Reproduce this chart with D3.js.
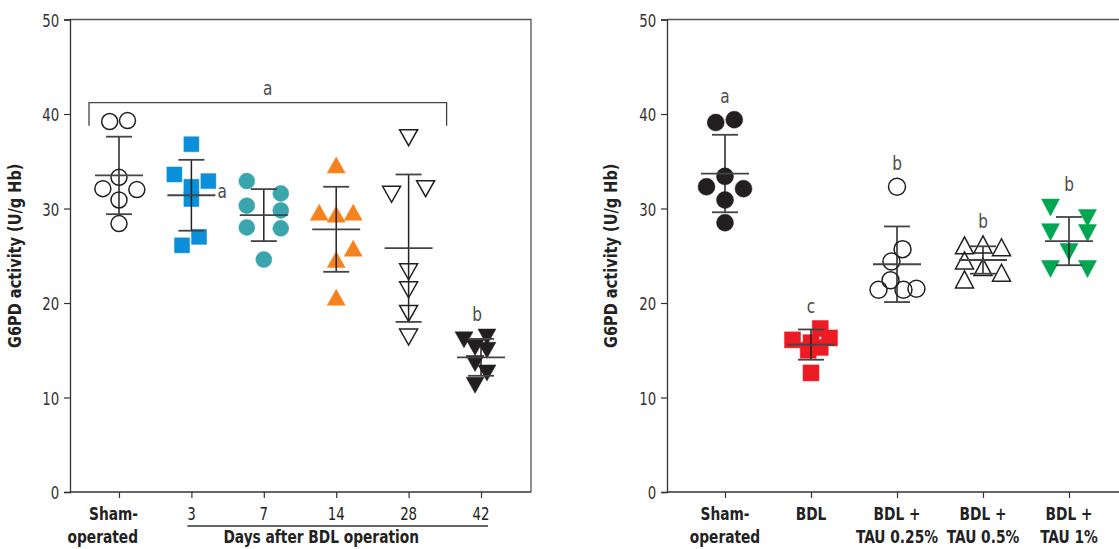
<!DOCTYPE html>
<html><head><meta charset="utf-8">
<script src="https://cdn.jsdelivr.net/npm/d3@7"></script>
<style>
html,body{margin:0;padding:0;background:#fff;}
text{font-family:"DejaVu Sans Condensed","DejaVu Sans",sans-serif;}
</style></head>
<body><svg id="chart" width="1119" height="549"></svg>
<script>
// ---------- DATA ----------
const yTicks = [0, 10, 20, 30, 40, 50];
const yLabel = "G6PD activity (U/g Hb)";

// Left panel
const leftCategories = ["Sham-operated", "3", "7", "14", "28", "42"];
const leftLabelLines = [["Sham-", "operated"], ["3"], ["7"], ["14"], ["28"], ["42"]];
const leftLabelBold = [true, false, false, false, false, false];
const leftMeans = [33.5, 31.4, 29.3, 27.8, 25.8, 14.25];
const leftSD = [4.1, 3.75, 2.75, 4.5, 7.8, 1.95];
const leftShapes = ["circle", "square", "circle", "triUp", "triDown", "triDown"];
const leftFills = ["none", "#0a8fd8", "#3ba5ad", "#f6821f", "none", "#231f20"];
const leftPoints = [
  [39.2, 39.3, 33.3, 32.1, 32.0, 30.9, 28.4],
  [36.8, 33.6, 32.9, 32.3, 31.0, 27.0, 26.1],
  [32.9, 31.6, 30.3, 29.8, 28.0, 27.9, 24.6],
  [34.6, 29.6, 29.4, 29.6, 25.8, 24.6, 20.6],
  [37.5, 32.1, 31.5, 23.3, 21.4, 18.9, 16.4],
  [16.1, 16.4, 15.3, 15.0, 13.6, 12.6, 11.3]
];
const leftSlots = [
  [-0.55, 0.5, 0, -0.95, 1.05, 0, 0],
  [0, -1, 1, 0, 0, 0.45, -0.55],
  [-1, 1, -1, 1, -1, 1, 0],
  [0, -1, 0, 1, 1, 0, 0],
  [0, 1, -1, 0, 0, 0, 0],
  [-1, 0.35, -0.35, 0.35, -0.35, 0.35, -0.35]
];
const leftBracket = {from: 0, to: 4, value: 41.2, letter: "a"};
const leftSideLetter = {group: 1, letter: "a"};
const leftTopLetter = {group: 5, letter: "b"};
const leftGroupTitle = "Days after BDL operation";

// Right panel
const rightCategories = ["Sham-operated", "BDL", "BDL + TAU 0.25%", "BDL + TAU 0.5%", "BDL + TAU 1%"];
const rightLabelLines = [["Sham-", "operated"], ["BDL"], ["BDL +", "TAU 0.25%"], ["BDL +", "TAU 0.5%"], ["BDL +", "TAU 1%"]];
const rightMeans = [33.7, 15.6, 24.1, 24.55, 26.55];
const rightSD = [4.1, 1.6, 4.0, 1.45, 2.55];
const rightShapes = ["circle", "square", "circle", "triUp", "triDown"];
const rightFills = ["#231f20", "#ed1c24", "none", "none", "#00a651"];
const rightPoints = [
  [39.1, 39.4, 33.4, 32.3, 32.1, 30.9, 28.5],
  [16.1, 17.3, 15.8, 16.3, 15.3, 15.0, 12.6],
  [32.3, 25.7, 24.4, 22.4, 21.4, 21.4, 21.5],
  [26.1, 26.2, 25.9, 24.5, 23.8, 23.2, 22.5],
  [30.1, 29.0, 27.5, 27.4, 25.4, 23.6, 23.6]
];
const rightSlots = [
  [-0.5, 0.5, 0, -1, 1, 0, 0],
  [-1, 0.5, 0, 1, 0.5, -0.15, 0],
  [0, 0.3, -0.3, -0.35, -1, 0.35, 1.05],
  [-1, 0, 1, -1, 0, 1, -1],
  [-1, 1, -1, 1, 0, -1, 1]
];
const rightLetters = ["a", "c", "b", "b", "b"];

// ---------- DRAW ----------
const svg = d3.select("#chart");
const axisColor = "#333";
const letterColor = "#4a4a4a";
const SX_BOLD = 0.85, SX_REG = 0.8;
const y = d3.scaleLinear().domain([0, 50]).range([492, 19.5]);

function shapePath(type, s) {
  if (type === "circle") { const r = s.r; return `M${-r},0A${r},${r} 0 1,0 ${r},0A${r},${r} 0 1,0 ${-r},0Z`; }
  if (type === "square") { const h = s.sq / 2; return `M${-h},${-h}H${h}V${h}H${-h}Z`; }
  const w = s.tw / 2, h = s.th / 2;
  if (type === "triUp") return `M0,${-h}L${w},${h}L${-w},${h}Z`;
  return `M${-w},${-h}L${w},${-h}L0,${h}Z`;
}
function halfHeight(type, s) {
  if (type === "circle") return s.r;
  if (type === "square") return s.sq / 2;
  return s.th / 2;
}
// narrow text helper
function ntext(parent, x, yy, str, o) {
  o = o || {};
  const t = parent.append("text")
    .attr("transform", `translate(${x},${yy}) ${o.rotate ? "rotate(" + o.rotate + ")" : ""} scale(${o.sx || SX_REG},1)`)
    .attr("text-anchor", o.anchor || "middle")
    .attr("font-size", o.size || 18)
    .attr("font-weight", o.bold ? "bold" : "normal")
    .attr("fill", o.fill || "#222")
    .text(str);
  return t;
}

function drawPanel(opt) {
  const g = svg.append("g");
  const x = d3.scalePoint().domain(opt.categories).range(opt.xRange);
  // frame (top + right)
  g.append("path")
    .attr("d", `M${opt.axisX},${y(50)}H${opt.frameRight}V${y(0)}`)
    .attr("fill", "none").attr("stroke", "#555").attr("stroke-width", 1.3);
  // y axis
  const ya = g.append("g").attr("transform", `translate(${opt.axisX},0)`)
    .call(d3.axisLeft(y).tickValues(yTicks).tickSize(6).tickPadding(5).tickFormat(d3.format("d")));
  ya.select(".domain").attr("stroke", axisColor).attr("stroke-width", 1.3);
  ya.selectAll(".tick line").attr("stroke", axisColor).attr("stroke-width", 1.2);
  ya.selectAll(".tick text").attr("font-size", 18.5).attr("fill", "#333")
    .attr("font-family", "'DejaVu Sans Condensed','DejaVu Sans',sans-serif")
    .attr("dy", "0.36em").attr("transform", `scale(${SX_REG},1)`).attr("x", -13.5);
  // x axis
  const xa = g.append("g").attr("transform", `translate(0,${y(0)})`)
    .call(d3.axisBottom(x).tickSize(6).tickFormat(""));
  xa.select(".domain").attr("d", `M${opt.axisX},0H${opt.frameRight}`).attr("stroke", axisColor).attr("stroke-width", 1.3);
  xa.selectAll(".tick line").attr("stroke", axisColor).attr("stroke-width", 1.2);
  // x labels
  opt.categories.forEach((c, i) => {
    const lines = opt.labelLines[i];
    const bold = opt.labelBold[i];
    const anchor = opt.labelAnchor ? opt.labelAnchor[i] : "middle";
    const lx = x(c) + (anchor === "end" ? 19 : 0);
    lines.forEach((ln, k) => {
      ntext(g, lx, 520 + k * 23, ln, {bold: bold, size: bold ? 18 : 18.5, sx: bold ? SX_BOLD : SX_REG, anchor: anchor});
    });
  });
  // y label
  ntext(g, opt.labelX, (y(0) + y(50)) / 2, yLabel, {rotate: -90, bold: true, size: 17, sx: 0.95});

  // points
  opt.points.forEach((vals, gi) => {
    const cx = x(opt.categories[gi]);
    const type = opt.shapes[gi];
    const fill = opt.fills[gi];
    const stroke = fill === "none" ? "#231f20" : fill;
    g.append("g").selectAll("path").data(vals).join("path")
      .attr("d", shapePath(type, opt.sizes))
      .attr("transform", (v, k) => `translate(${cx + opt.slots[gi][k] * opt.spacing},${y(v)})`)
      .attr("fill", fill === "none" ? "#fff" : fill)
      .attr("fill-opacity", fill === "none" ? 0 : 1)
      .attr("stroke", stroke).attr("stroke-width", fill === "none" ? 1.5 : 0.5);
  });
  // error bars (mean ± SD)
  opt.means.forEach((m, gi) => {
    const cx = x(opt.categories[gi]);
    const sd = opt.sd[gi];
    const eg = g.append("g");
    eg.append("line").attr("x1", cx).attr("x2", cx).attr("y1", y(m + sd)).attr("y2", y(m - sd))
      .attr("stroke", "#222").attr("stroke-width", 1.5);
    [m + sd, m - sd].forEach(v => eg.append("line")
      .attr("x1", cx - 13).attr("x2", cx + 13).attr("y1", y(v)).attr("y2", y(v))
      .attr("stroke", "#444").attr("stroke-width", 1.8));
    eg.append("line").attr("x1", cx - 24).attr("x2", cx + 24).attr("y1", y(m)).attr("y2", y(m))
      .attr("stroke", "#444").attr("stroke-width", 1.8);
  });
  return x;
}

// left panel
const leftSizes = {r: 8, sq: 15, tw: 18, th: 16};
const xL = drawPanel({
  categories: leftCategories, labelLines: leftLabelLines, labelBold: leftLabelBold,
  labelAnchor: ["end", "middle", "middle", "middle", "middle", "middle"],
  xRange: [119, 481], axisX: 70, frameRight: 531, labelX: 21,
  points: leftPoints, slots: leftSlots, shapes: leftShapes, fills: leftFills,
  means: leftMeans, sd: leftSD, sizes: leftSizes, spacing: 17
});
// bracket
{
  const x0 = xL(leftCategories[leftBracket.from]) - 30;
  const x1 = xL(leftCategories[leftBracket.to]) + 38;
  const yb = y(leftBracket.value);
  svg.append("path").attr("d", `M${x0},${yb + 23}V${yb}H${x1}V${yb + 23}`)
    .attr("fill", "none").attr("stroke", "#444").attr("stroke-width", 1.3);
  ntext(svg, (x0 + x1) / 2, yb - 8, leftBracket.letter, {size: 20, fill: letterColor, sx: 0.85});
}
// side letter
{
  const gi = leftSideLetter.group;
  ntext(svg, xL(leftCategories[gi]) + 26, y(leftMeans[gi]) + 3, leftSideLetter.letter,
    {size: 20, fill: letterColor, sx: 0.85, anchor: "start"});
}
// top letter
{
  const gi = leftTopLetter.group;
  const top = d3.max(leftPoints[gi]);
  ntext(svg, xL(leftCategories[gi]) - 4, y(top) - halfHeight(leftShapes[gi], leftSizes) - 8, leftTopLetter.letter,
    {size: 20, fill: letterColor, sx: 0.85});
}
// days group title
{
  const xa = xL(leftCategories[1]) - 4, xb = xL(leftCategories[5]) + 7;
  svg.append("line").attr("x1", xa).attr("x2", xb).attr("y1", 526).attr("y2", 526)
    .attr("stroke", "#333").attr("stroke-width", 1.3);
  ntext(svg, xa + (xb - xa) * 0.445, 543, leftGroupTitle, {bold: true, size: 18, sx: SX_BOLD});
}

// right panel
const rightSizes = {r: 8.5, sq: 16, tw: 18, th: 17};
const xR = drawPanel({
  categories: rightCategories, labelLines: rightLabelLines, labelBold: rightCategories.map(() => true),
  xRange: [725, 1069], axisX: 667, frameRight: 1125, labelX: 617,
  points: rightPoints, slots: rightSlots, shapes: rightShapes, fills: rightFills,
  means: rightMeans, sd: rightSD, sizes: rightSizes, spacing: 18.5
});
rightLetters.forEach((l, gi) => {
  const top = d3.max(rightPoints[gi]);
  const yt = Math.min(y(top) - halfHeight(rightShapes[gi], rightSizes), y(rightMeans[gi] + rightSD[gi]));
  ntext(svg, xR(rightCategories[gi]), yt - 8, l, {size: 20, fill: letterColor, sx: 0.85});
});
</script></body></html>
